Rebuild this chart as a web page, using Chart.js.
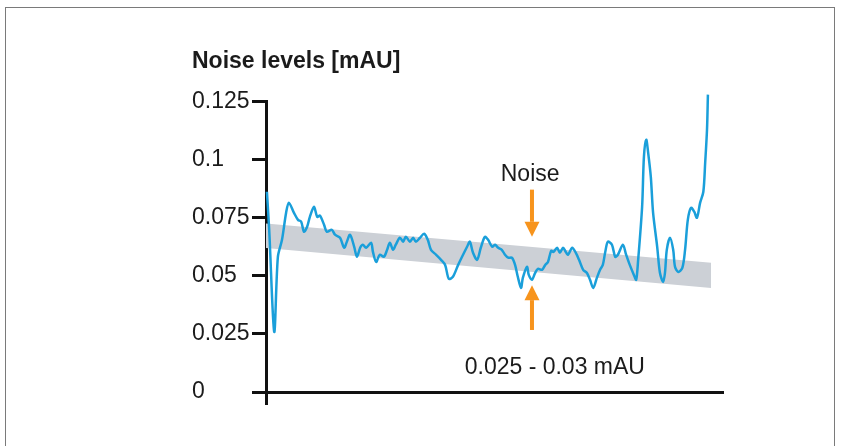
<!DOCTYPE html>
<html>
<head>
<meta charset="utf-8">
<script src="https://cdn.jsdelivr.net/npm/chart.js@4.4.1/dist/chart.umd.min.js"></script>
<style>
  html, body { margin: 0; padding: 0; background: #fff; overflow: hidden; }
  #wrap { position: relative; width: 841px; height: 446px; }
  #frame { position: absolute; left: 5px; top: 7px; width: 830px; height: 460px;
           border: 1px solid #7a7a7a; border-bottom: none; box-sizing: border-box; }
  canvas { position: absolute; left: 0; top: 0; }
</style>
</head>
<body>
<div id="wrap">
  <div id="frame"></div>
  <canvas id="c" width="841" height="446"></canvas>
</div>
<script>
// ---- data ----
const titleText = 'Noise levels [mAU]';
const yTickValues = [0, 0.025, 0.05, 0.075, 0.1, 0.125];
const yTickLabels = ['0', '0.025', '0.05', '0.075', '0.1', '0.125'];

const timeValues = [
  0.2, 0.7, 1.8, 2.6, 3.5, 4.4, 5.0, 6.1, 7.0, 7.7, 8.3, 9.0, 9.6, 10.5, 11.2, 11.8,
  12.7, 13.3, 14.4, 15.1, 16.2, 17.1, 17.7, 18.4, 19.3, 19.9, 20.6, 21.2, 21.9, 23.0,
  23.4, 24.1, 24.9, 25.8, 26.5, 27.1, 27.8, 28.4, 29.3, 30.0, 30.6, 31.5, 32.2, 32.8,
  33.7, 34.6, 35.4, 36.1, 37.2, 38.3, 39.2, 40.0, 40.9, 42.0, 42.9, 44.0, 44.6, 45.3,
  46.2, 47.0, 47.9, 48.6, 49.5, 50.1, 50.8, 51.6, 52.3, 53.0, 53.8, 54.5, 55.1, 55.8,
  56.2, 57.1, 57.5, 58.2, 58.9, 59.5, 60.4, 61.1, 61.7, 62.4, 62.9, 63.7, 64.3, 65.0,
  65.6, 66.1, 67.0, 67.8, 68.5, 69.4, 70.2, 70.9, 71.6, 72.4, 73.1, 73.7, 74.2, 74.8,
  75.7, 76.4, 77.0, 78.1, 78.8, 79.6, 80.5, 81.0, 81.4, 82.3, 82.7, 83.2, 83.6, 84.2,
  84.7, 85.6, 86.2, 86.9, 87.3, 87.7, 88.4, 89.1, 89.5, 90.2, 91.1, 91.7, 92.3, 93.0,
  93.7, 94.3, 95.0, 95.7, 96.1, 96.5, 96.7
];
const noiseLevels = [
  0.0862, 0.0698, 0.0259, 0.0582, 0.0655, 0.0772, 0.0815, 0.0772, 0.0741, 0.0733, 0.0690, 0.0711, 0.0754, 0.0797, 0.0754, 0.0759,
  0.0720, 0.0690, 0.0698, 0.0677, 0.0664, 0.0621, 0.0647, 0.0677, 0.0625, 0.0582, 0.0621, 0.0634, 0.0621, 0.0642,
  0.0603, 0.0560, 0.0591, 0.0582, 0.0612, 0.0642, 0.0612, 0.0634, 0.0664, 0.0647, 0.0668, 0.0647, 0.0664, 0.0647,
  0.0664, 0.0681, 0.0655, 0.0612, 0.0591, 0.0569, 0.0547, 0.0487, 0.0496, 0.0545, 0.0582, 0.0625, 0.0647, 0.0599,
  0.0569, 0.0621, 0.0668, 0.0655, 0.0625, 0.0634, 0.0621, 0.0612, 0.0591, 0.0578, 0.0578, 0.0547, 0.0496, 0.0448,
  0.0491, 0.0539, 0.0504, 0.0483, 0.0513, 0.0530, 0.0526, 0.0547, 0.0560, 0.0608, 0.0603, 0.0621, 0.0599, 0.0621,
  0.0603, 0.0591, 0.0621, 0.0599, 0.0569, 0.0526, 0.0513, 0.0483, 0.0448, 0.0491, 0.0526, 0.0547, 0.0599, 0.0647,
  0.0634, 0.0582, 0.0591, 0.0634, 0.0591, 0.0547, 0.0504, 0.0483, 0.0560, 0.0797, 0.1013, 0.1086, 0.1034, 0.0927,
  0.0772, 0.0625, 0.0513, 0.0474, 0.0513, 0.0612, 0.0664, 0.0612, 0.0539, 0.0517, 0.0534, 0.0612, 0.0741, 0.0793,
  0.0776, 0.0750, 0.0815, 0.0862, 0.0987, 0.1129, 0.1280
];

// noise band (grey)
const bandX = [0, 97.4];
const bandUpper = [0.0725, 0.0556];
const bandLower = [0.0620, 0.0448];

// annotations
const noiseLabel = 'Noise';
const rangeLabel = '0.025 - 0.03 mAU';

// ---- chart ----
const FONT = "'Liberation Sans', Arial, sans-serif";
const INK = '#1b1b1b';
const ORANGE = '#f7941d';
const BLUE = '#1a9fda';

const linePts = timeValues.map((x, i) => ({ x, y: noiseLevels[i] }));
const upperPts = bandX.map((x, i) => ({ x, y: bandUpper[i] }));
const lowerPts = bandX.map((x, i) => ({ x, y: bandLower[i] }));

function drawArrow(ctx, x, yTail, yTip) {
  const dir = yTip > yTail ? 1 : -1;
  const headLen = 15, headHalf = 7.5, shaft = 4;
  ctx.fillStyle = ORANGE;
  ctx.fillRect(x - shaft / 2, Math.min(yTail, yTip - dir * headLen), shaft, Math.abs(yTip - dir * headLen - yTail));
  ctx.beginPath();
  ctx.moveTo(x, yTip);
  ctx.lineTo(x - headHalf, yTip - dir * headLen);
  ctx.lineTo(x + headHalf, yTip - dir * headLen);
  ctx.closePath();
  ctx.fill();
}

const annotations = {
  id: 'annotations',
  afterDatasetsDraw(chart) {
    const { ctx, scales: { x, y } } = chart;
    ctx.save();
    const ax = x.getPixelForValue(58.2);
    drawArrow(ctx, ax, y.getPixelForValue(0.0871), y.getPixelForValue(0.0668));
    drawArrow(ctx, ax, y.getPixelForValue(0.0267), y.getPixelForValue(0.0460));
    ctx.fillStyle = INK;
    ctx.font = '23px ' + FONT;
    ctx.textAlign = 'center';
    ctx.textBaseline = 'middle';
    ctx.fillText(noiseLabel, x.getPixelForValue(57.8), y.getPixelForValue(0.0935));
    ctx.fillText(rangeLabel, x.getPixelForValue(63.2), y.getPixelForValue(0.0104));
    ctx.restore();
  }
};

new Chart(document.getElementById('c'), {
  type: 'line',
  data: {
    datasets: [
      { data: linePts, borderColor: BLUE, borderWidth: 2.5, pointRadius: 0, tension: 0.3, fill: false, clip: false },
      { data: upperPts, borderWidth: 0, borderColor: 'rgba(0,0,0,0)', pointRadius: 0, fill: false },
      { data: lowerPts, borderWidth: 0, borderColor: 'rgba(0,0,0,0)', pointRadius: 0, fill: 1, backgroundColor: '#ccd0d6' }
    ]
  },
  options: {
    responsive: false,
    animation: false,
    events: [],
    layout: { padding: { left: 192, right: 118, top: 40, bottom: 41 } },
    plugins: {
      legend: { display: false },
      tooltip: { enabled: false },
      title: {
        display: true, text: titleText, align: 'start', color: INK,
        font: { family: FONT, size: 23, weight: 'bold', lineHeight: 1.2 },
        padding: { top: 8, bottom: 26 }
      }
    },
    scales: {
      x: {
        type: 'linear', min: 0, max: 100,
        afterBuildTicks: (s) => { s.ticks = [{ value: 0 }]; },
        ticks: { display: false },
        grid: { display: true, drawOnChartArea: false, drawTicks: true, tickLength: 13, tickWidth: 3, tickColor: '#111' },
        border: { display: true, color: '#111', width: 3 }
      },
      y: {
        type: 'linear', min: 0, max: 0.125,
        afterBuildTicks: (s) => { s.ticks = yTickValues.map(v => ({ value: v })); },
        afterFit: (s) => { s.width = 74; },
        ticks: {
          crossAlign: 'far', padding: 4, color: INK,
          font: { family: FONT, size: 23 },
          callback: (v) => { const i = yTickValues.indexOf(v); return i >= 0 ? yTickLabels[i] : ''; }
        },
        grid: { display: true, drawOnChartArea: false, drawTicks: true, tickLength: 14, tickWidth: 3, tickColor: '#111' },
        border: { display: true, color: '#111', width: 3 }
      }
    }
  },
  plugins: [annotations]
});
</script>
</body>
</html>
